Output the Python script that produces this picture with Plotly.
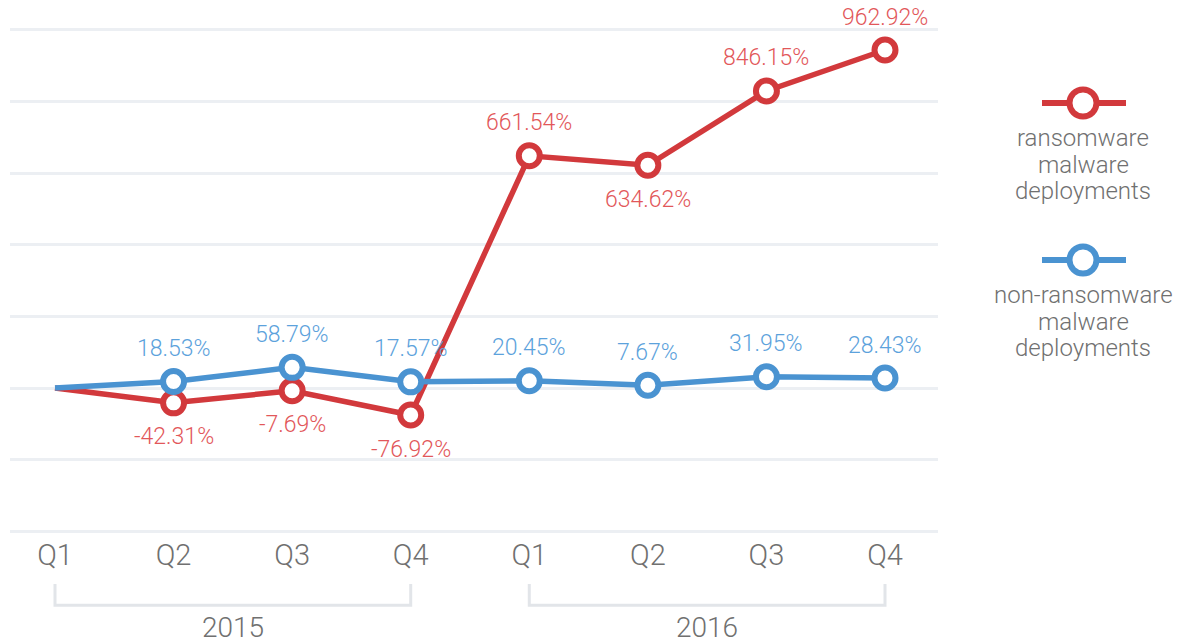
import plotly.graph_objects as go

quarters = ["Q1", "Q2", "Q3", "Q4", "Q1", "Q2", "Q3", "Q4"]
years = ["2015", "2016"]
ransomware = [0, -42.31, -7.69, -76.92, 661.54, 634.62, 846.15, 962.92]
non_ransomware = [0, 18.53, 58.79, 17.57, 20.45, 7.67, 31.95, 28.43]
ransom_label_side = [None, "below", "below", "below", "above", "below", "above", "above"]
non_label_side = [None, "above", "above", "above", "above", "above", "above", "above"]
legend_names = [["ransomware", "malware", "deployments"],
                ["non-ransomware", "malware", "deployments"]]

RED = "#d2393c"
BLUE = "#4a93d1"
RED_TXT = "#e2575a"
BLUE_TXT = "#5ca2dc"
GRAY_TXT = "#707070"
GRID = "#eceff3"
FONT = "Roboto"

x = list(range(len(quarters)))

fig = go.Figure()
for vals, col in [(ransomware, RED), (non_ransomware, BLUE)]:
    fig.add_trace(go.Scatter(
        x=x, y=vals, mode="lines",
        line=dict(color=col, width=5.5),
        cliponaxis=False, hoverinfo="skip", showlegend=False))
    fig.add_trace(go.Scatter(
        x=x[1:], y=vals[1:], mode="markers",
        marker=dict(symbol="circle", size=21, color="white", opacity=1,
                    line=dict(color=col, width=6)),
        cliponaxis=False, hoverinfo="skip", showlegend=False))

anns = []
for vals, sides, col in [(ransomware, ransom_label_side, RED_TXT),
                         (non_ransomware, non_label_side, BLUE_TXT)]:
    for i, (v, s) in enumerate(zip(vals, sides)):
        if s is None:
            continue
        anns.append(dict(x=i, y=v, xref="x", yref="y", text=f"{v:.2f}%",
                         showarrow=False, yshift=33 if s == "above" else -34,
                         font=dict(family=FONT, size=23, color=col, weight=300)))

# year brackets
for k, yr in enumerate(years):
    x0, x1 = 4 * k, 4 * k + 3
    fig.add_shape(type="path", xref="x", yref="paper",
                  path=f"M {x0} -0.0961 L {x0} -0.1378 L {x1} -0.1378 L {x1} -0.0961",
                  line=dict(color="#e2e5e9", width=3))
    anns.append(dict(x=(x0 + x1) / 2, y=-0.1815, xref="x", yref="paper", text=yr,
                     showarrow=False, yanchor="middle",
                     font=dict(family=FONT, size=28, color=GRAY_TXT, weight=300)))

# legend (drawn manually)
leg_y = [103, 260]
for (names, col, ly) in zip(legend_names, [RED, BLUE], leg_y):
    fig.add_shape(type="line", xref="paper", yref="paper",
                  x0=(1042 - 10) / 928, x1=(1126 - 10) / 928,
                  y0=(535 - ly) / 509, y1=(535 - ly) / 509,
                  line=dict(color=col, width=6))
    cx = (1083 - 10) / 928
    cy = (535 - ly) / 509
    rx = 13.5 / 928
    ry = 13.5 / 509
    fig.add_shape(type="circle", xref="paper", yref="paper",
                  x0=cx - rx, x1=cx + rx, y0=cy - ry, y1=cy + ry,
                  fillcolor="white", line=dict(color=col, width=6))
    for j, nm in enumerate(names):
        ty = ly + 35 + j * 26.5
        anns.append(dict(x=cx, y=(535 - ty) / 509, xref="paper", yref="paper",
                         text=nm, showarrow=False, xanchor="center", yanchor="middle",
                         font=dict(family=FONT, size=24, color=GRAY_TXT, weight=300)))

fig.update_layout(
    width=1183, height=643,
    margin=dict(l=10, r=245, t=26, b=108),
    paper_bgcolor="white", plot_bgcolor="white",
    annotations=anns,
    xaxis=dict(range=[-0.3795, 7.447], tickvals=x, ticktext=quarters,
               showgrid=False, zeroline=False, showline=False, ticks="",
               tickfont=dict(family=FONT, size=29, color=GRAY_TXT, weight=300),
               fixedrange=True),
    yaxis=dict(range=[-418.8, 1031.3], tick0=0, dtick=204, showticklabels=False,
               gridcolor=GRID, gridwidth=3, zeroline=False, showline=False,
               ticks="", fixedrange=True),
)

fig.write_html("out.html", config={"displayModeBar": False},
               post_script="document.body.style.margin='0';document.body.style.overflow='hidden';")
